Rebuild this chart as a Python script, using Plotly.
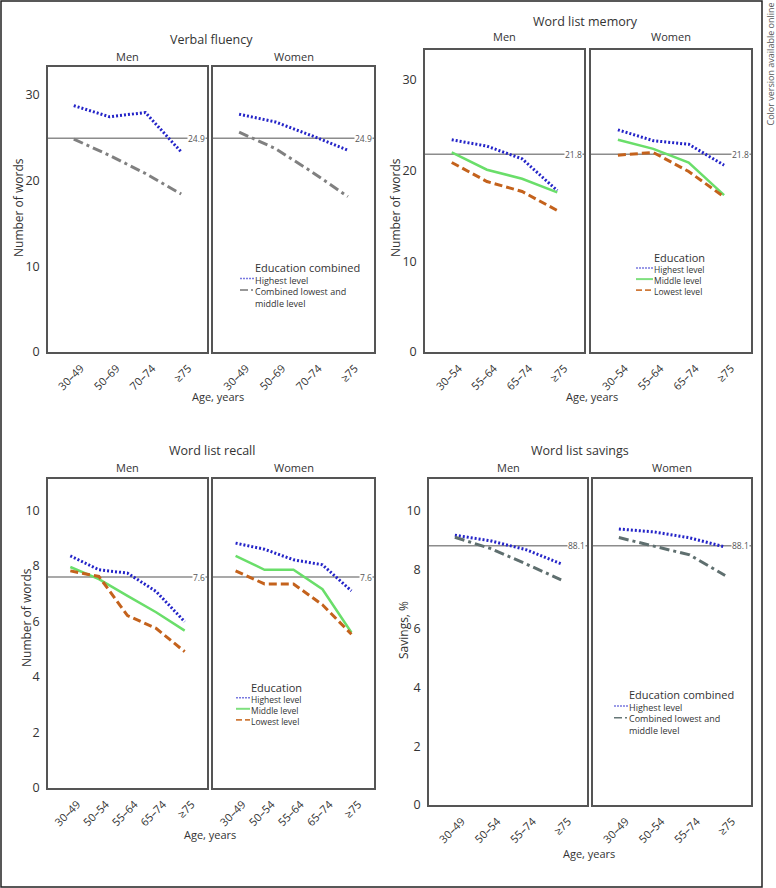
import plotly.graph_objects as go

W, H = 776, 888
def fx(p): return p / W
def fy(p): return 1 - p / H

FONT = "Open Sans"
TXT = "#333333"

# ---------------- data ----------------
vf_cats = ["30–49", "50–69", "70–74", "≥75"]
vf_men_high = [28.7, 27.4, 27.9, 23.3]
vf_men_comb = [24.8, 22.9, 20.8, 18.4]
vf_women_high = [27.7, 26.8, 25.2, 23.5]
vf_women_comb = [25.6, 23.7, 21.0, 18.1]
vf_ref = 24.9

wlm_cats = ["30–54", "55–64", "65–74", "≥75"]
wlm_men_high = [23.4, 22.7, 21.3, 17.8]
wlm_men_mid = [22.0, 20.1, 19.1, 17.6]
wlm_men_low = [20.9, 18.8, 17.7, 15.6]
wlm_women_high = [24.5, 23.3, 22.9, 20.6]
wlm_women_mid = [23.4, 22.4, 20.9, 17.3]
wlm_women_low = [21.7, 22.0, 19.9, 17.1]
wlm_ref = 21.8

wlr_cats = ["30–49", "50–54", "55–64", "65–74", "≥75"]
wlr_men_high = [8.36, 7.86, 7.74, 7.08, 5.99]
wlr_men_mid = [7.96, 7.52, 6.92, 6.33, 5.67]
wlr_men_low = [7.82, 7.62, 6.21, 5.75, 4.91]
wlr_women_high = [8.82, 8.60, 8.22, 8.04, 7.10]
wlr_women_mid = [8.36, 7.86, 7.86, 7.16, 5.60]
wlr_women_low = [7.82, 7.35, 7.35, 6.60, 5.54]
wlr_ref = 7.6

wls_cats = ["30–49", "50–54", "55–74", "≥75"]
wls_men_high = [9.17, 8.98, 8.68, 8.20]
wls_men_comb = [9.10, 8.72, 8.20, 7.65]
wls_women_high = [9.38, 9.28, 9.08, 8.77]
wls_women_comb = [9.09, 8.80, 8.50, 7.80]
wls_ref = 88.1

# ---------------- styles ----------------
STY = {
    "high": dict(color="#2424c8", dash="2px,2px", width=3),
    "mid": dict(color="#6ade6a", dash="solid", width=2.5),
    "low": dict(color="#c4621c", dash="8px,4px", width=3),
    "comb": dict(color="#808080", dash="10px,4px,3px,4px", width=3),
    "comb2": dict(color="#5f6f6f", dash="10px,4px,3px,4px", width=3),
}
LEG_STY = {
    "high": dict(color="#7a7ae0", dash="2px,1px", width=1.5),
    "mid": dict(color="#7fe07f", dash="solid", width=2),
    "low": dict(color="#d07a3a", dash="6px,3px", width=1.8),
    "comb": dict(color="#777777", dash="8px,3px,2px,3px", width=1.5),
    "comb2": dict(color="#667777", dash="8px,3px,2px,3px", width=1.5),
}
NAMES = {
    "high": "Highest level",
    "mid": "Middle level",
    "low": "Lowest level",
    "comb": "Combined lowest and<br>middle level",
    "comb2": "Combined lowest and<br>middle level",
}

panels = [
    dict(title="Verbal fluency", cats=vf_cats, ytitle="Number of words",
         men={"high": vf_men_high, "comb": vf_men_comb},
         women={"high": vf_women_high, "comb": vf_women_comb},
         refy=vf_ref, reflab="24.9",
         mbox=(48, 207, 67, 352), wbox=(213, 374, 67, 352), yr=[0, 33.2], xpad=0.72,
         dtick=10, title_xy=(212, 40), sex_y=56, xt_xy=(218, 396), yt_xy=(18, 208),
         legtitle="Education combined", leg_title_y=266.7, leg_tx=256, leg_fs=9,
         leg_sx=(240, 254), leg_items=["high", "comb"]),
    dict(title="Word list memory", cats=wlm_cats, ytitle="Number of words",
         men={"high": wlm_men_high, "mid": wlm_men_mid, "low": wlm_men_low},
         women={"high": wlm_women_high, "mid": wlm_women_mid, "low": wlm_women_low},
         refy=wlm_ref, reflab="21.8",
         mbox=(425, 584, 50, 352), wbox=(591, 751, 50, 352), yr=[0, 33.3], xpad=0.76,
         dtick=10, title_xy=(585, 21), sex_y=37, xt_xy=(592, 396), yt_xy=(395, 208),
         legtitle="Education", leg_title_y=257, leg_tx=655, leg_fs=8.5,
         leg_sx=(636, 653), leg_items=["high", "mid", "low"]),
    dict(title="Word list recall", cats=wlr_cats, ytitle="Number of words",
         men={"high": wlr_men_high, "mid": wlr_men_mid, "low": wlr_men_low},
         women={"high": wlr_women_high, "mid": wlr_women_mid, "low": wlr_women_low},
         refy=wlr_ref, reflab="7.6",
         mbox=(48, 207, 479, 788), wbox=(213, 374, 479, 788), yr=[0, 11.13], xpad=0.78,
         dtick=2, title_xy=(212, 450), sex_y=467, xt_xy=(210, 834), yt_xy=(26, 618),
         legtitle="Education", leg_title_y=686.7, leg_tx=252, leg_fs=8.5,
         leg_sx=(236, 250), leg_items=["high", "mid", "low"]),
    dict(title="Word list savings", cats=wls_cats, ytitle="Savings, %",
         men={"high": wls_men_high, "comb2": wls_men_comb},
         women={"high": wls_women_high, "comb2": wls_women_comb},
         refy=wls_ref / 10, reflab="88.1",
         mbox=(429, 587, 479, 805), wbox=(593, 751, 479, 805), yr=[0, 11.08], xpad=0.73,
         dtick=2, title_xy=(580, 450), sex_y=467, xt_xy=(589, 853), yt_xy=(403, 630),
         legtitle="Education combined", leg_title_y=694.3, leg_tx=630, leg_fs=9,
         leg_sx=(614, 628), leg_items=["high", "comb2"]),
]

fig = go.Figure()
layout = {}
annotations = []
shapes = []

k = 0
for p in panels:
    for sex, box, data in (("Men", p["mbox"], p["men"]), ("Women", p["wbox"], p["women"])):
        k += 1
        sfx = "" if k == 1 else str(k)
        xa, ya = f"x{sfx}", f"y{sfx}"
        x0, x1, y0, y1 = box
        n = len(p["cats"])
        layout[f"xaxis{sfx}"] = dict(
            domain=[fx(x0), fx(x1)], anchor=ya, type="category",
            categoryorder="array", categoryarray=p["cats"],
            range=[-p["xpad"], n - 1 + p["xpad"]], automargin=False,
            showline=True, mirror=True, linecolor="#555555", linewidth=1.5,
            showgrid=False, zeroline=False, ticks="", tickangle=-45,
            ticklabelshift=7, ticklabelstandoff=4,
            tickfont=dict(family=FONT, size=11, color=TXT), fixedrange=True)
        layout[f"yaxis{sfx}"] = dict(
            domain=[fy(y1), fy(y0)], anchor=xa, range=p["yr"], automargin=False,
            showline=True, mirror=True, linecolor="#555555", linewidth=1.5,
            showgrid=False, zeroline=False, ticks="", dtick=p["dtick"], tick0=0,
            showticklabels=(sex == "Men"), ticklabelstandoff=4,
            tickfont=dict(family=FONT, size=12.5, color=TXT), fixedrange=True)
        for key, vals in data.items():
            st = STY[key]
            fig.add_trace(go.Scatter(
                x=p["cats"], y=vals, mode="lines", name=NAMES[key],
                line=dict(color=st["color"], dash=st["dash"], width=st["width"]),
                xaxis=xa, yaxis=ya, showlegend=False, hoverinfo="skip"))
        # reference line
        shapes.append(dict(type="line", xref=f"{xa} domain", yref=ya,
                           x0=0, x1=1, y0=p["refy"], y1=p["refy"],
                           line=dict(color="#8c8c8c", width=1.5), layer="below"))
        annotations.append(dict(xref=f"{xa} domain", yref=ya, x=1, y=p["refy"],
                                xanchor="right", yanchor="middle", xshift=-1,
                                text=p["reflab"], showarrow=False, bgcolor="white",
                                borderpad=0,
                                font=dict(family=FONT, size=8.5, color="#555555")))
        # Men / Women label
        annotations.append(dict(xref="paper", yref="paper", x=fx((x0 + x1) / 2),
                                y=fy(p["sex_y"]), xanchor="center", yanchor="middle",
                                text=sex, showarrow=False,
                                font=dict(family=FONT, size=11, color=TXT)))
    # panel title
    tx, ty = p["title_xy"]
    annotations.append(dict(xref="paper", yref="paper", x=fx(tx), y=fy(ty),
                            xanchor="center", yanchor="middle", text=p["title"],
                            showarrow=False, font=dict(family=FONT, size=12.5, color=TXT)))
    # axis titles
    ax_, ay_ = p["xt_xy"]
    annotations.append(dict(xref="paper", yref="paper", x=fx(ax_), y=fy(ay_),
                            xanchor="center", yanchor="middle", text="Age, years",
                            showarrow=False, font=dict(family=FONT, size=11, color=TXT)))
    yx, yy = p["yt_xy"]
    annotations.append(dict(xref="paper", yref="paper", x=fx(yx), y=fy(yy),
                            xanchor="center", yanchor="middle", text=p["ytitle"],
                            textangle=-90, showarrow=False,
                            font=dict(family=FONT, size=12, color=TXT)))
    # legend: one text block (title + labels) and short line samples
    lt, ty0, fs = p["leg_tx"], p["leg_title_y"], p["leg_fs"]
    step = fs * 1.3
    block = "<span style='font-size:11px'>" + p["legtitle"] + "</span><br>" + \
            "<br>".join(NAMES[kk] for kk in p["leg_items"])
    annotations.append(dict(xref="paper", yref="paper", x=fx(lt - 2), y=fy(ty0 - 8),
                            xanchor="left", yanchor="top", align="left",
                            text=block, showarrow=False, borderpad=0,
                            font=dict(family=FONT, size=fs, color=TXT)))
    sx0, sx1 = p["leg_sx"]
    line_idx = 1
    for key in p["leg_items"]:
        iy = ty0 + line_idx * step
        ls = LEG_STY[key]
        shapes.append(dict(type="line", xref="paper", yref="paper",
                           x0=fx(sx0), x1=fx(sx1), y0=fy(iy), y1=fy(iy),
                           line=dict(color=ls["color"], dash=ls["dash"], width=ls["width"])))
        line_idx += NAMES[key].count("<br>") + 1

# outer frame and side note
shapes.append(dict(type="rect", xref="paper", yref="paper",
                   x0=fx(1), x1=fx(762), y0=fy(887), y1=fy(1),
                   line=dict(color="#222222", width=1.5), fillcolor="rgba(0,0,0,0)"))
annotations.append(dict(xref="paper", yref="paper", x=fx(770), y=fy(1),
                        xanchor="center", yanchor="top", textangle=-90,
                        text="Color version available online", showarrow=False,
                        font=dict(family=FONT, size=9, color="#555555")))

fig.update_layout(
    width=W, height=H, margin=dict(l=0, r=0, t=0, b=0, autoexpand=False),
    paper_bgcolor="white", plot_bgcolor="white", showlegend=False,
    font=dict(family=FONT, color=TXT),
    annotations=annotations, shapes=shapes,
    **layout,
)

fig.write_html("out.html", config={"displayModeBar": False},
               post_script="document.body.style.margin='0';document.body.style.overflow='hidden';")
